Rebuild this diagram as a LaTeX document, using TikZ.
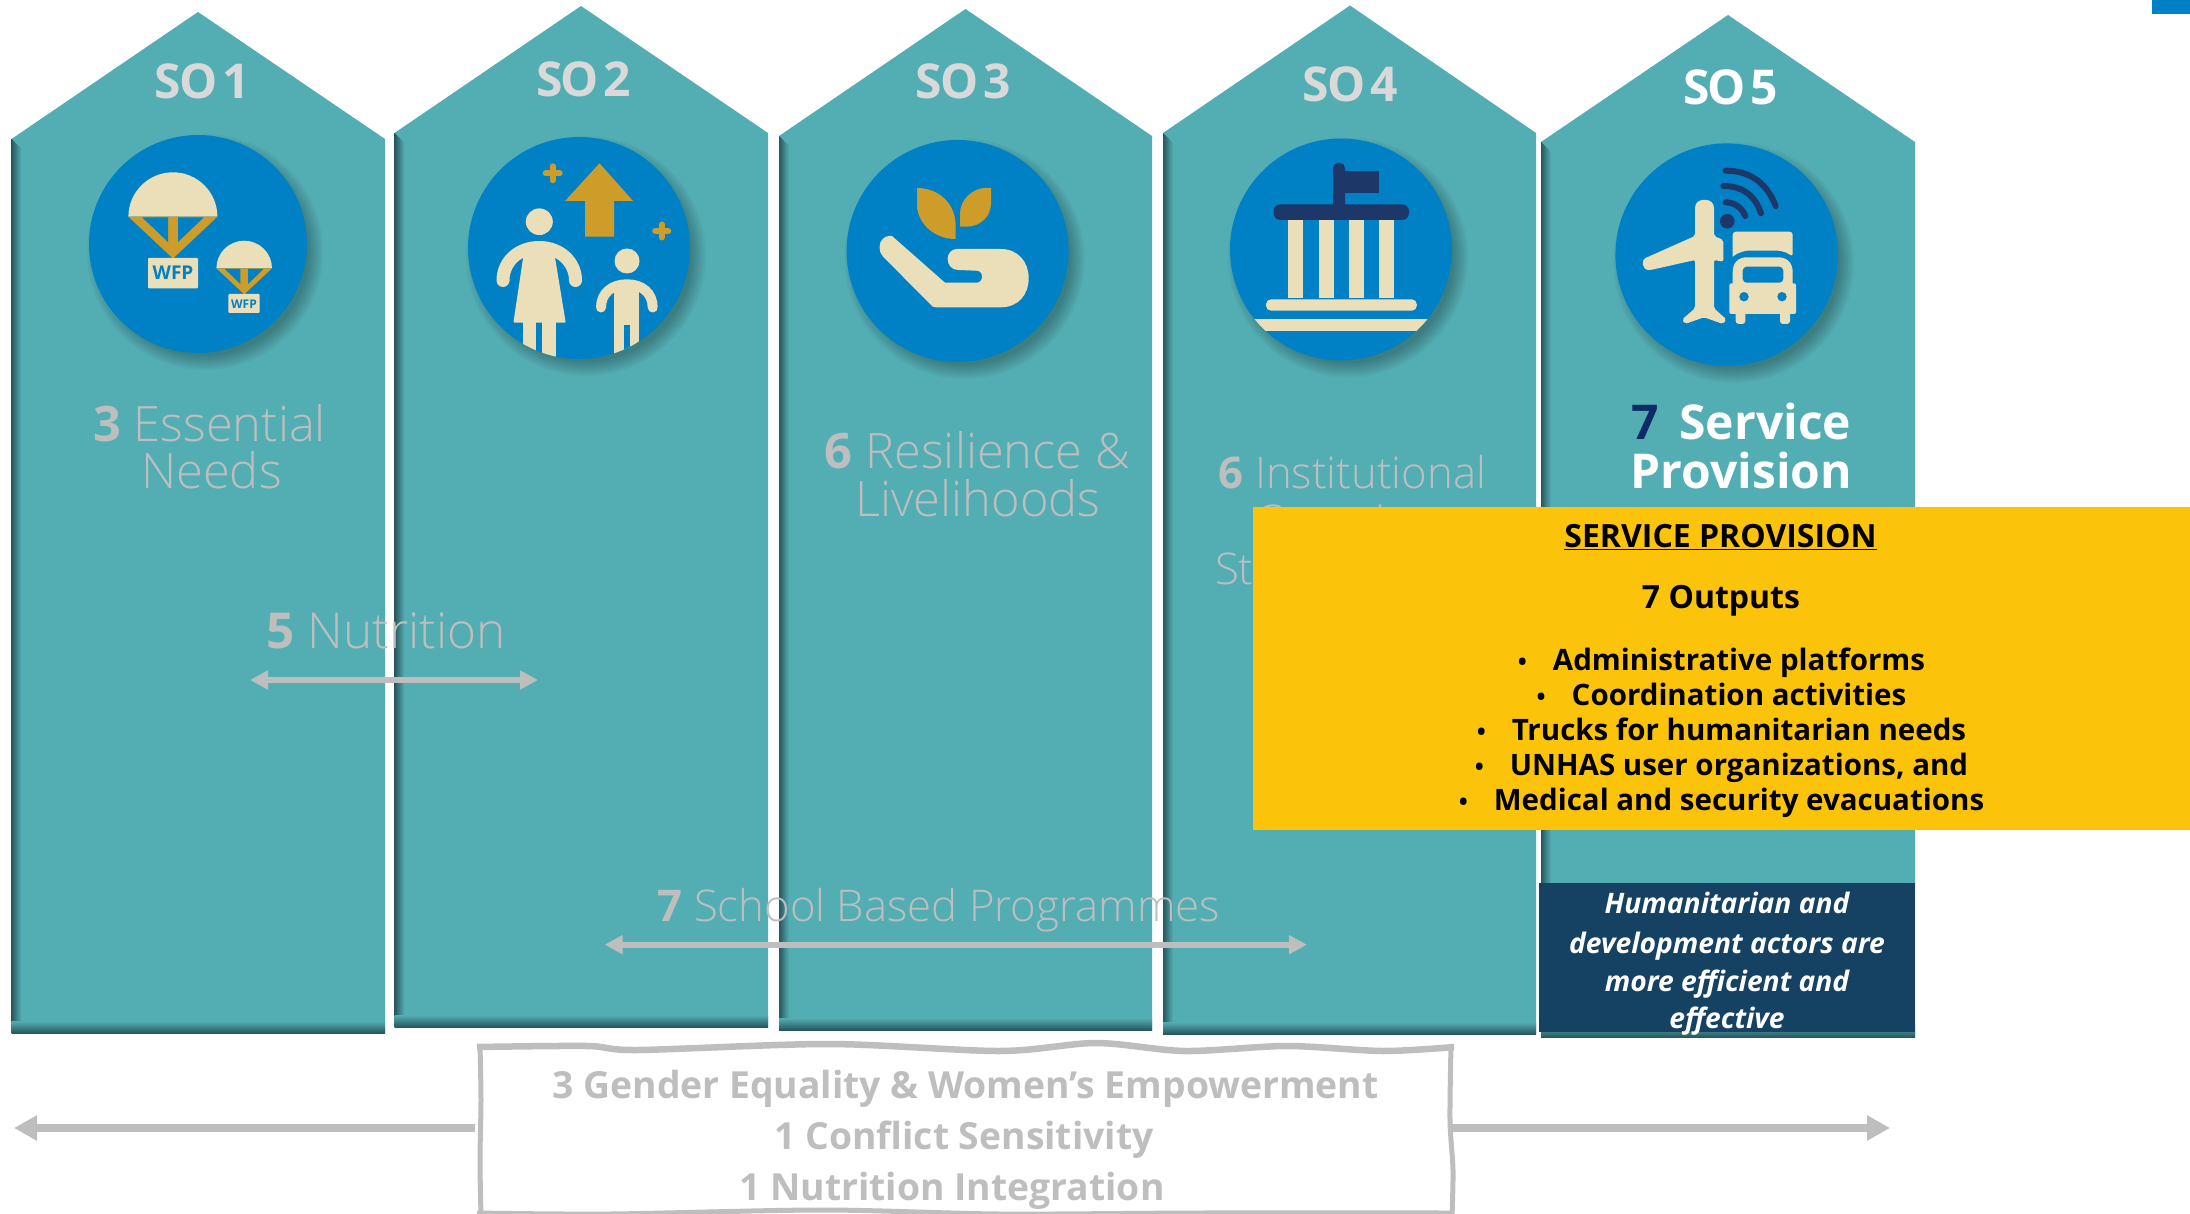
\documentclass[tikz,border=0pt]{standalone}
\usepackage{fontspec}
\usetikzlibrary{arrows.meta}
\setmainfont{Open Sans}
\newfontfamily\oslight{Open Sans Light}
\definecolor{tealc}{HTML}{53AEB4}
\definecolor{tealdark}{HTML}{27575D}
\definecolor{bluec}{HTML}{0081C6}
\definecolor{creamc}{HTML}{EBDFB9}
\definecolor{goldc}{HTML}{CE9C28}
\definecolor{navyc}{HTML}{1D3768}
\definecolor{yellowc}{HTML}{FBC40A}
\definecolor{darkbox}{HTML}{154263}
\definecolor{greyt}{HTML}{BEBEBE}
\definecolor{sotext}{HTML}{D9D9D9}
\definecolor{seven}{HTML}{0F2A66}
\newcommand{\fsz}[1]{\fontsize{#1}{#1}\selectfont}
\newcommand{\dgt}[1]{{\rmfamily\bfseries #1}}
\newcommand{\pent}[6]{% left right apexx apexy shoulder bottom
  \fill[tealc] (#1,#5) -- (#3,#4) -- (#2,#5) -- (#2,#6) -- (#1,#6) -- cycle;
  \shade[left color=tealdark,right color=tealc] (#1,#5) -- (#1+10,#5+10) -- (#1+10,#6) -- (#1,#6) -- cycle;
  \shade[top color=tealc,bottom color=tealdark] (#1,#6-12) rectangle (#2,#6);
}
\newcommand{\disc}[3]{% x y r
  \foreach \d in {9,7,5,3,1,-1,-3,-5}
    \fill[black,opacity=0.035] (#1+7,#2+8) circle ({#3+\d});
  \fill[bluec] (#1,#2) circle (#3);
}
\tikzset{
  lbl/.style={anchor=base,inner sep=0pt,outer sep=0pt},
  solabel/.style={lbl,text=sotext,font=\fsz{48}\bfseries\addfontfeature{LetterSpace=-4}},
  light/.style={lbl,text=greyt,font=\fsz{48.8}\oslight},
  lightsmall/.style={lbl,text=greyt,font=\fsz{43.7}\oslight},
  whitebold/.style={lbl,text=white,font=\fsz{48}\bfseries},
  ybold/.style={lbl,text=black,font=\fsz{29.5}\bfseries},
  ytitle/.style={lbl,text=black,font=\fsz{32}\bfseries},
  itbold/.style={lbl,text=white,font=\fsz{28.2}\bfseries\itshape},
  crossc/.style={lbl,text=greyt,font=\fsz{37.3}\bfseries},
  bigarrow/.style={draw=greyt,line width=8pt,-{Triangle[length=23pt,width=24pt]}},
  smallarrow/.style={draw=greyt,line width=6pt,{Triangle[length=18pt,width=18pt]}-{Triangle[length=18pt,width=18pt]}},
  wave/.style={draw=greyt,line width=5pt},
}
\newcommand{\ybul}{\llap{{\fsz{24}•}\hspace{26pt}}}
\begin{document}
\begin{tikzpicture}[x=1pt,y=-1pt]
\useasboundingbox (0,0) rectangle (2190,1214);
\fill[white] (0,0) rectangle (2190,1214);
\fill[bluec] (2152,0) rectangle (2190,14);
% columns
\pent{11.5}{385}{198}{12}{139}{1033}
\pent{394.5}{768}{581}{6}{133}{1027}
\pent{779}{1152}{965.5}{9}{136}{1030}
\pent{1163}{1536}{1350}{5.5}{133}{1034}
\pent{1541}{1915}{1728}{15}{142}{1037}
% SO labels
\node[solabel] (so1) at (202,98.5) {SO\hspace{0.1em}1};
\node[solabel] (so2) at (583.5,96.5) {SO\hspace{0.1em}2};
\node[solabel] (so3) at (963,99) {SO\hspace{0.1em}3};
\node[solabel] (so4) at (1350,101.5) {SO\hspace{0.1em}4};
\node[solabel,text=white] (so5) at (1730.5,104.5) {SO\hspace{0.1em}5};
% ---- SO1 icon
\disc{198}{244}{109}
\fill[creamc] (128.4,216.7) arc[start angle=180,end angle=360,x radius=44.5,y radius=44.4] -- cycle;
\fill[goldc] (128.4,216.7) -- (217.4,216.7) -- (173,258.5) -- cycle;
\fill[bluec] (142.3,217.5) -- (168,217.5) -- (168,242) -- cycle;
\fill[bluec] (178,217.5) -- (203.7,217.5) -- (178,242) -- cycle;
\fill[creamc,rounded corners=1pt] (148,258) rectangle (198,288.3);
\node[lbl,text=bluec,font=\fsz{19}\bfseries] (wfpa) at (173,280) {WFP};
\fill[creamc] (216.4,268.3) arc[start angle=180,end angle=360,x radius=27.8,y radius=27.6] -- cycle;
\fill[goldc] (216.4,268.3) -- (272,268.3) -- (244.2,294.3) -- cycle;
\fill[bluec] (224.9,269) -- (240.3,269) -- (240.3,284) -- cycle;
\fill[bluec] (248,269) -- (263.5,269) -- (248,284) -- cycle;
\fill[creamc,rounded corners=1pt] (228.4,294) rectangle (259.7,313);
\node[lbl,text=bluec,font=\fsz{12}\bfseries] (wfpb) at (244,308.5) {WFP};
% ---- SO2 icon
\disc{579}{248}{111}
\fill[goldc] (599.5,163.3) -- (633,201) -- (614,201) -- (614,236.7) -- (585,236.7) -- (585,201) -- (565,201) -- cycle;
\draw[goldc,line width=6pt,line cap=round] (552.7,166.3) -- (552.7,180.3) (545.7,173.3) -- (559.7,173.3);
\draw[goldc,line width=6pt,line cap=round] (661.7,224.5) -- (661.7,237.5) (655.2,231) -- (668.2,231);
\begin{scope}
\clip (579,248) circle (111);
\fill[creamc] (539.3,221.7) ellipse[x radius=13.5,y radius=13.3];
\draw[creamc,line width=13pt,line cap=round] (503,280.5) .. controls (503,262) and (518,247.5) .. (539.3,247.5) .. controls (560,247.5) and (575.5,262) .. (575.5,280.5);
\fill[creamc,rounded corners=1pt] (525,245) -- (553,245) -- (565.7,322.7) -- (513.4,322.7) -- cycle;
\fill[creamc] (523,320) rectangle (536.3,365);
\fill[creamc] (542.3,320) rectangle (555.7,365);
\fill[creamc] (627,261) circle (12.5);
\draw[creamc,line width=10pt,line cap=round] (601,307.5) .. controls (601,293) and (612,284.3) .. (627,284.3) .. controls (642,284.3) and (652.7,293) .. (652.7,307.5);
\fill[creamc] (614.4,283) rectangle (639.3,365);
\fill[bluec] (624,325) rectangle (630,365);
\end{scope}
% ---- SO3 icon
\disc{957.6}{251}{111}
\fill[goldc] (917,188) .. controls (940,188) and (955.6,205) .. (955.6,225) -- (955.6,239) .. controls (933,239) and (917,222) .. (917,205) -- cycle;
\fill[goldc] (991,188) -- (991,203) .. controls (991,217) and (980,226.7) .. (966,226.7) -- (960,226.7) -- (960,213) .. controls (960,200) and (973,188) .. (985,188) -- cycle;
\fill[creamc] (892,236) -- (945,282.7) -- (945,282.7) -- (976.5,282.7) .. controls (980,282.7) and (982,280) .. (982,276.7) .. controls (982,273) and (980,270.7) .. (976.5,270.7) -- (958,270) .. controls (952,270) and (947.6,265) .. (947.6,259) .. controls (947.6,253) and (952,249) .. (956.6,249) -- (1001,249) .. controls (1018,249) and (1028.7,262) .. (1028.7,278) .. controls (1028.7,295) and (1018,307.3) .. (1001,307.3) -- (935.7,307.3) .. controls (933,307.3) and (932,306) .. (931,305) -- (883.4,257) .. controls (880,253) and (879.5,250) .. (879.5,247) .. controls (879.5,240) and (885,236) .. (889,236) .. controls (891,236) and (891.5,236) .. (892,236) -- cycle;
% ---- SO4 icon
\disc{1341}{249.5}{111}
\fill[navyc,rounded corners=5pt] (1333,220) -- (1333,163) -- (1345,163) -- (1345,220) -- cycle;
\fill[navyc] (1345,171) rectangle (1379,193);
\fill[navyc,rounded corners=7pt] (1273.5,204.3) rectangle (1409,220);
\foreach \cx in {1288.4,1318.8,1348.6,1378.5}
  \fill[creamc] (\cx,220) rectangle (\cx+15,298.3);
\fill[creamc,rounded corners=5pt] (1266,299.3) rectangle (1416.8,310.7);
\begin{scope}
\clip (1341,249.5) circle (111);
\fill[creamc] (1230,319.3) rectangle (1450,331);
\end{scope}
% ---- SO5 icon
\disc{1726.7}{254.7}{111.3}
\fill[navyc] (1727.3,221.3) circle (7.3);
\draw[navyc,line width=6pt,line cap=round]
  (1725.7,202.3) .. controls (1735,202.5) and (1742,208) .. (1745.3,216)
  (1723.3,186) .. controls (1745,186) and (1756,198) .. (1761,213.3)
  (1725.7,170.7) .. controls (1753,170.7) and (1768,186) .. (1775.7,206);
\fill[creamc,rounded corners=2pt] (1695,236) -- (1695,210) .. controls (1695,203) and (1699,200) .. (1704.5,200) .. controls (1710,200) and (1714,203) .. (1714,210) -- (1714,236) -- (1723.3,240) -- (1723.3,261.7) -- (1714,260) -- (1714,308.3) -- (1726.5,319.5) -- (1723,324) -- (1704,317.3) -- (1685,324) -- (1682,319.5) -- (1695,308.3) -- (1695,260) -- (1650.7,270) .. controls (1642,270) and (1641,260) .. (1647,257.3) -- cycle;
\fill[creamc,rounded corners=3pt] (1732.7,256.7) -- (1732.7,231.7) -- (1792.7,231.7) -- (1792.7,256.7) .. controls (1785,251) and (1778,250.7) .. (1775,250.7) -- (1750,250.7) .. controls (1746,250.7) and (1738,252) .. (1732.7,256.7);
\fill[creamc] (1732.7,285) -- (1732.7,272) .. controls (1732.7,263) and (1738,257.3) .. (1746.7,257.3) -- (1778.3,257.3) .. controls (1787,257.3) and (1792.7,263) .. (1792.7,272) -- (1792.7,285) -- cycle;
\fill[creamc,rounded corners=2pt] (1729.3,283.3) rectangle (1796,314);
\fill[creamc,rounded corners=3pt] (1735.7,310) rectangle (1745.3,324);
\fill[creamc,rounded corners=3pt] (1780,310) rectangle (1790,324);
\fill[bluec,rounded corners=4pt] (1742.7,282.7) -- (1742.7,266.7) -- (1783.3,266.7) -- (1783.3,282.7) -- cycle;
\fill[bluec] (1744,296.7) circle (4.7);
\fill[bluec] (1782,296.7) circle (4.7);
% ---- texts in columns
\node[light] (ess) at (209.5,441.5) {\dgt{3} Essential};
\node[light] (needs) at (211.5,488.5) {Needs};
\node[light] (res) at (977.5,468) {\dgt{6} Resilience \&};
\node[light] (liv) at (978,516) {Livelihoods};
\node[lightsmall] (inst) at (1352.5,488) {\dgt{6} Institutional};
\node[lightsmall] (cap) at (1338,536) {Capacity};
\node[lightsmall,anchor=base west] (stren) at (1215,584) {Strengthening};
\node[whitebold] (svc) at (1741.5,439.5) {\textcolor{seven}{7}\hspace{0.42em}Service};
\node[whitebold] (prov) at (1741.5,488) {Provision};
\node[light,font=\fsz{49.5}\oslight] (nut) at (386,648) {\dgt{5} Nutrition};
\coordinate (nl) at (250,680); \coordinate (nr) at (538,680);
\draw[smallarrow] (nl) -- (nr);
\node[lightsmall] (sch) at (939,921) {\dgt{7} School Based Programmes};
\coordinate (sl) at (604.6,944.7); \coordinate (sr) at (1307,944.7);
\draw[smallarrow] (sl) -- (sr);
% ---- dark box
\fill[darkbox] (1539,883) rectangle (1915,1032);
\node[itbold] (h1) at (1727,913) {Humanitarian and};
\node[itbold] (h2) at (1727,953) {development actors are};
\node[itbold] (h3) at (1727,991) {more efficient and};
\node[itbold] (h4) at (1727,1028) {effective};
% ---- yellow box
\fill[yellowc] (1253,507) rectangle (2190,830);
\node[ytitle] (yt) at (1720.5,547) {\underline{SERVICE PROVISION}};
\node[ytitle] (yo) at (1721,608) {7 Outputs};
\node[ybold] (y1) at (1739,670) {\ybul Administrative platforms};
\node[ybold] (y2) at (1739,705) {\ybul Coordination activities};
\node[ybold] (y3) at (1739,740) {\ybul Trucks for humanitarian needs};
\node[ybold] (y4) at (1739,775) {\ybul UNHAS user organizations, and};
\node[ybold] (y5) at (1739,810) {\ybul Medical and security evacuations};
% ---- cross-cutting box
\draw[wave,line width=6.5pt] plot[smooth] coordinates {(477,1047) (587,1046) (638,1050) (829,1044) (1000,1051) (1096,1043) (1185,1051) (1287,1046) (1383,1051) (1454,1047)};
\draw[wave] plot[smooth] coordinates {(480,1045) (481,1100) (480,1160) (481,1216)};
\draw[wave] plot[smooth] coordinates {(1451,1045) (1450,1120) (1453,1170) (1452,1216)};
\draw[wave] plot[smooth] coordinates {(477,1213) (610,1214) (822,1210) (1000,1214) (1200,1213) (1452,1213)};
\node[crossc,text=greyt] (c1) at (965.6,1098) {3 Gender Equality \& Women’s Empowerment};
\node[crossc] (c2) at (964,1149) {1 Conflict Sensitivity};
\node[crossc] (c3) at (952,1200) {1 Nutrition Integration};
\coordinate (boxl) at (475,1128); \coordinate (tipl) at (14,1128);
\coordinate (boxr) at (1452,1128); \coordinate (tipr) at (1890,1128);
\draw[bigarrow] (boxl) -- (tipl);
\draw[bigarrow] (boxr) -- (tipr);
\end{tikzpicture}
\end{document}
